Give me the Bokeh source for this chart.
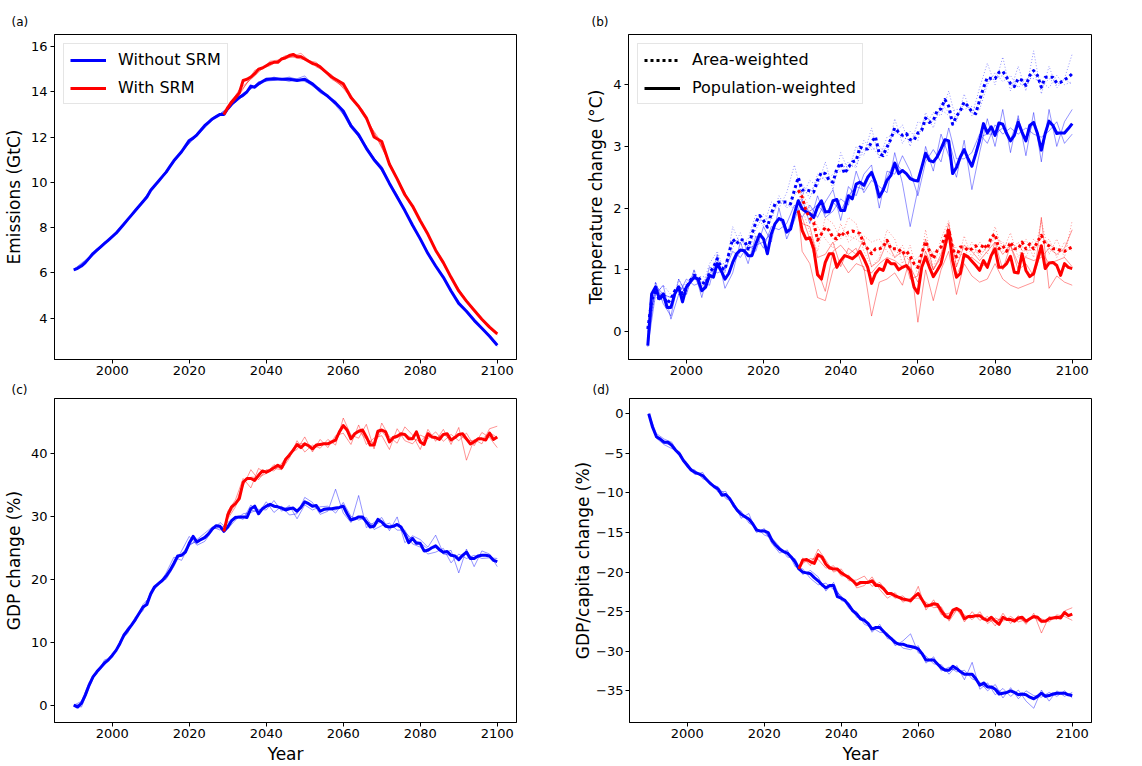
from bokeh.plotting import figure
from bokeh.layouts import column, row
from bokeh.models import (Range1d, FixedTicker, Legend, LegendItem,
                          CustomJSTickFormatter)
from bokeh.embed import file_html
from bokeh.resources import INLINE

# ---------------------------------------------------------------- data
X_TICKS = [2000, 2020, 2040, 2060, 2080, 2100]

YEARS_ANNUAL = list(range(1990, 2101))
YEARS_RED_ANNUAL = list(range(2029, 2101))
YEARS_THIN_BLUE = list(range(1990, 2101, 2))
YEARS_THIN_RED = [2029] + list(range(2030, 2101, 2))

# (a) Emissions (GtC)
A_YEARS_BLUE = list(range(1990, 2041)) + list(range(2042, 2101, 2))
A_BLUE = [6.13, 6.2, 6.3, 6.45, 6.65, 6.85, 7.0, 7.15, 7.3, 7.45,
          7.6, 7.75, 7.95, 8.15, 8.35, 8.55, 8.75, 8.95, 9.15, 9.35,
          9.65, 9.85, 10.05, 10.25, 10.45, 10.7, 10.95, 11.15, 11.35, 11.6,
          11.85, 11.95, 12.1, 12.3, 12.5, 12.65, 12.8, 12.9, 13.0, 13.0,
          13.25, 13.45, 13.6, 13.75, 13.85, 14.0, 14.25, 14.2, 14.35, 14.45,
          14.55,
          14.58, 14.55, 14.55, 14.5, 14.55, 14.35, 14.05, 13.8, 13.5, 13.15,
          12.5, 12.1, 11.5, 11.0, 10.6, 9.95, 9.35, 8.75, 8.1, 7.5,
          6.85, 6.3, 5.8, 5.2, 4.65, 4.3, 3.9, 3.55, 3.2, 2.8]
A_YEARS_RED = list(range(2029, 2061)) + list(range(2062, 2101, 2))
A_RED = [13.0, 13.3, 13.55, 13.75, 13.95, 14.5, 14.55, 14.65, 14.8, 15.0,
         15.05, 15.15, 15.25, 15.3, 15.3, 15.45, 15.5, 15.6, 15.65, 15.55,
         15.55, 15.45, 15.35, 15.25, 15.2, 15.1, 14.95, 14.8, 14.65, 14.55,
         14.45, 14.35,
         13.75, 13.35, 12.85, 12.0, 11.8, 10.8, 10.15, 9.45, 8.95, 8.3,
         7.7, 7.0, 6.45, 5.8, 5.2, 4.75, 4.35, 3.95, 3.6, 3.3]
A_THIN_YEARS_BLUE = list(range(1990, 2099, 4)) + [2100]
A_THIN_BLUE = [
    [6.15, 6.7, 7.35, 7.9, 8.8, 9.6, 10.5, 11.3, 12.15, 12.85, 13.2, 13.95, 14.3, 14.65, 14.45,
     14.7, 13.95, 13.6, 12.4, 11.6, 10.5, 9.45, 8.05, 6.9, 5.75, 4.7, 3.85, 3.25, 2.85],
    [6.1, 6.6, 7.25, 8.0, 8.7, 9.7, 10.4, 11.4, 12.05, 12.75, 13.3, 13.8, 14.45, 14.5, 14.65,
     14.45, 14.15, 13.4, 12.6, 11.45, 10.7, 9.3, 8.15, 6.8, 5.85, 4.6, 3.95, 3.15, 2.75],
    [6.14, 6.65, 7.3, 7.95, 8.75, 9.65, 10.5, 11.35, 12.1, 12.8, 13.25, 13.9, 14.4, 14.55, 14.6,
     14.5, 14.0, 13.55, 12.5, 11.5, 10.6, 9.35, 8.1, 6.85, 5.8, 4.65, 3.9, 3.2, 2.8],
]
A_THIN_YEARS_RED = list(range(2029, 2098, 4)) + [2100]
A_THIN_RED = [
    [13.0, 14.1, 14.7, 15.35, 15.45, 15.7, 15.1, 14.75, 13.95, 13.2, 11.85, 10.55, 9.15, 8.05,
     6.65, 5.55, 4.5, 3.8, 3.3],
    [13.0, 13.85, 14.95, 15.15, 15.6, 15.45, 15.3, 14.55, 14.15, 13.0, 12.0, 10.45, 9.25, 7.95,
     6.75, 5.45, 4.6, 3.7, 3.25],
    [13.0, 13.95, 14.8, 15.25, 15.5, 15.6, 15.2, 14.6, 14.05, 13.1, 11.9, 10.5, 9.2, 8.0,
     6.7, 5.5, 4.55, 3.75, 3.3],
]

# (b) Temperature change (°C)
B_BLUE_POP = [-0.23, 0.61, 0.72, 0.53, 0.61, 0.39, 0.39, 0.61, 0.72, 0.48,
              0.72, 0.8, 0.88, 0.85, 0.66, 0.72, 0.91, 0.88, 1.1, 0.99,
              0.85, 0.94, 1.12, 1.26, 1.32, 1.31, 1.23, 1.23, 1.42, 1.58,
              1.5, 1.26, 1.58, 1.75, 1.83, 1.8, 1.61, 1.66, 1.91, 2.12,
              1.99, 1.94, 1.91, 1.85, 2.02, 2.12, 1.94, 1.94, 2.12, 2.14,
              1.96, 1.96, 2.2, 2.15, 2.39, 2.42, 2.37, 2.5, 2.58, 2.42,
              2.18, 2.29, 2.45, 2.53, 2.73, 2.56, 2.61, 2.56, 2.48, 2.45,
              2.44, 2.66, 2.89, 2.77, 2.75, 2.83, 2.96, 3.11, 3.09, 2.56,
              2.66, 2.83, 2.95, 2.8, 2.68, 2.88, 3.1, 3.37, 3.22, 3.32,
              3.18, 3.38, 3.36, 3.21, 3.09, 3.18, 3.39, 3.23, 3.09, 3.34,
              3.39, 3.21, 2.94, 3.21, 3.41, 3.34, 3.21, 3.22, 3.22, 3.29,
              3.37]
B_BLUE_AREA = [0.04, 0.5, 0.68, 0.5, 0.61, 0.45, 0.53, 0.66, 0.72, 0.61,
               0.71, 0.83, 0.91, 0.89, 0.8, 0.77, 0.95, 1.04, 1.18, 1.04,
               1.0, 1.26, 1.5, 1.42, 1.49, 1.48, 1.34, 1.58, 1.77, 1.88,
               1.8, 1.69, 1.91, 2.07, 2.1, 2.1, 2.1, 2.07, 2.29, 2.5,
               2.29, 2.3, 2.28, 2.26, 2.45, 2.58, 2.56, 2.45, 2.42, 2.64,
               2.73, 2.56, 2.66, 2.75, 2.77, 2.99, 2.96, 2.96, 3.07, 3.16,
               2.88, 2.85, 2.99, 3.12, 3.3, 3.23, 3.18, 3.21, 3.11, 3.1,
               3.22, 3.26, 3.46, 3.39, 3.42, 3.58, 3.61, 3.76, 3.65, 3.36,
               3.49, 3.58, 3.72, 3.65, 3.56, 3.53, 3.75, 3.95, 4.12, 4.1,
               4.1, 4.2, 4.22, 4.12, 4.02, 3.97, 4.1, 4.07, 3.99, 4.15,
               4.23, 4.15, 3.96, 4.12, 4.12, 4.12, 4.03, 4.04, 4.08, 4.12,
               4.18]
B_RED_POP = [1.96,
             1.64, 1.5, 1.52, 1.34, 0.92, 0.85, 1.12, 1.26, 1.26, 1.04,
             1.15, 1.23, 1.21, 1.18, 1.23, 1.3, 1.18, 1.04, 0.78, 0.94,
             1.02, 0.99, 1.16, 1.1, 1.1, 1.0, 1.04, 1.07, 0.99, 0.72,
             0.62, 1.04, 1.21, 1.04, 0.89, 0.99, 1.1, 1.37, 1.64, 1.15,
             0.88, 0.94, 1.25, 1.21, 1.14, 1.07, 0.99, 1.15, 1.04, 1.23,
             1.34, 1.04, 1.04, 1.1, 1.22, 0.96, 0.95, 1.26, 0.99, 0.89,
             0.94, 1.16, 1.39, 1.02, 1.11, 1.12, 1.07, 0.91, 1.1, 1.04,
             1.02]
B_RED_AREA = [2.29,
              2.18, 1.96, 1.84, 1.77, 1.48, 1.58, 1.69, 1.64, 1.52, 1.5,
              1.61, 1.56, 1.61, 1.63, 1.61, 1.59, 1.42, 1.34, 1.26, 1.34,
              1.34, 1.37, 1.48, 1.34, 1.34, 1.34, 1.26, 1.31, 1.22, 1.1,
              1.04, 1.26, 1.46, 1.31, 1.18, 1.31, 1.37, 1.53, 1.66, 1.34,
              1.21, 1.37, 1.37, 1.31, 1.34, 1.39, 1.3, 1.42, 1.34, 1.53,
              1.58, 1.34, 1.39, 1.3, 1.45, 1.34, 1.34, 1.45, 1.34, 1.42,
              1.34, 1.45, 1.56, 1.42, 1.39, 1.34, 1.34, 1.31, 1.3, 1.34,
              1.37]
B_THIN_BLUE_POP = [
    [-0.2, 0.8, 0.45, 0.25, 0.85, 0.6, 1.0, 0.55, 1.05, 0.95, 1.0, 1.3, 1.2, 1.4, 1.3, 1.7, 1.45, 2.0, 1.5, 1.8,
     2.15, 1.75, 2.2, 1.85, 1.95, 2.15, 2.05, 2.6, 2.25, 2.45, 2.35, 2.25, 2.9, 2.4, 1.7, 2.3, 3.0, 2.6, 3.2, 2.85,
     2.5, 3.1, 2.3, 2.9, 3.45, 3.0, 3.6, 2.9, 3.5, 2.85, 3.55, 2.75, 3.6, 3.0, 3.4, 3.6],
    [-0.25, 0.6, 0.75, 0.2, 0.6, 0.85, 0.75, 0.8, 0.75, 1.25, 0.7, 0.95, 1.45, 1.1, 1.55, 1.35, 1.7, 1.65, 1.75, 2.05,
     1.85, 2.05, 1.85, 2.1, 2.3, 1.8, 2.35, 2.2, 2.55, 2.7, 2.0, 2.6, 2.55, 2.85, 2.6, 2.2, 2.75, 2.95, 2.75, 3.3,
     2.8, 2.8, 2.9, 3.2, 3.05, 3.35, 3.2, 3.3, 3.2, 3.3, 3.2, 3.15, 3.25, 3.4, 3.05, 3.2],
    [-0.22, 0.75, 0.6, 0.55, 0.7, 0.7, 0.9, 0.65, 0.95, 1.05, 0.85, 1.1, 1.3, 1.35, 1.4, 1.45, 1.6, 1.85, 1.6, 1.9,
     2.0, 1.95, 2.05, 1.9, 2.1, 1.95, 2.2, 2.35, 2.3, 2.6, 2.2, 2.5, 2.75, 2.6, 2.5, 2.45, 2.9, 2.75, 2.95, 3.1,
     2.65, 2.95, 2.7, 3.15, 3.2, 3.2, 3.3, 3.1, 3.45, 3.1, 3.4, 2.95, 3.4, 3.25, 3.2, 3.35],
]
B_THIN_BLUE_AREA = [
    [0.05, 0.8, 0.5, 0.4, 0.85, 0.6, 1.0, 0.7, 1.1, 1.3, 0.95, 1.7, 1.4, 1.5, 1.9, 1.7, 2.1, 2.0, 2.25, 2.7,
     2.2, 2.45, 2.35, 2.75, 2.3, 2.9, 2.6, 3.0, 2.85, 3.3, 2.8, 3.15, 3.2, 3.35, 3.0, 3.4, 3.35, 3.55, 3.5, 3.9,
     3.4, 3.85, 3.5, 3.95, 4.35, 4.0, 4.45, 3.9, 4.3, 3.9, 4.55, 3.85, 4.3, 3.95, 4.1, 4.5],
    [0.0, 0.6, 0.75, 0.6, 0.6, 0.8, 0.85, 0.9, 0.85, 1.1, 1.1, 1.35, 1.6, 1.25, 1.65, 1.9, 1.8, 2.2, 2.0, 2.2,
     2.4, 2.15, 2.55, 2.45, 2.55, 2.6, 2.75, 2.65, 3.1, 2.95, 3.0, 2.85, 3.45, 3.05, 3.25, 3.1, 3.55, 3.3, 3.7, 3.55,
     3.6, 3.6, 3.65, 3.6, 4.0, 4.2, 4.05, 4.15, 3.95, 4.1, 4.1, 4.05, 3.95, 4.15, 4.0, 4.05],
    [0.06, 0.65, 0.6, 0.55, 0.75, 0.75, 0.9, 0.8, 0.9, 1.15, 0.95, 1.45, 1.5, 1.3, 1.8, 1.8, 1.85, 2.1, 2.05, 2.0,
     2.25, 2.25, 2.45, 2.5, 2.4, 2.7, 2.65, 2.7, 2.95, 3.0, 2.85, 3.0, 3.25, 3.15, 3.1, 3.2, 3.45, 3.4, 3.6, 3.5,
     3.45, 3.7, 3.55, 3.7, 4.05, 4.1, 4.15, 4.0, 4.05, 3.95, 4.2, 3.95, 4.1, 4.0, 4.1, 4.0],
]
B_THIN_RED_POP = [
    [1.96, 1.3, 1.1, 0.55, 0.5, 1.0, 1.15, 0.95, 1.1, 1.05, 0.25, 0.8, 0.85, 0.95, 0.75, 1.2, 0.15, 1.0, 0.5, 1.0,
     1.3, 0.6, 1.1, 0.9, 0.8, 0.85, 1.1, 0.85, 0.75, 0.7, 0.75, 0.8, 1.85, 0.7, 0.9, 0.8, 0.75],
    [1.96, 1.75, 1.7, 1.2, 1.25, 1.45, 1.05, 1.35, 1.25, 1.5, 1.05, 1.15, 1.45, 1.2, 1.3, 0.85, 0.9, 1.5, 1.0, 1.25,
     1.75, 1.05, 1.4, 1.3, 1.15, 1.3, 1.45, 1.25, 1.4, 1.1, 1.2, 1.15, 1.2, 1.35, 1.25, 1.35, 1.65],
    [1.96, 1.85, 1.5, 1.0, 0.65, 1.3, 1.4, 1.25, 1.35, 1.0, 0.95, 1.1, 1.2, 1.15, 1.05, 1.05, 0.8, 1.3, 1.0, 1.2,
     1.6, 0.9, 1.2, 1.2, 1.1, 1.05, 1.45, 1.0, 1.4, 1.0, 1.1, 0.9, 1.3, 1.1, 1.15, 1.2, 1.05],
]
B_THIN_RED_AREA = [
    [2.29, 2.0, 1.6, 1.3, 1.85, 1.75, 1.5, 1.85, 1.75, 1.3, 1.05, 1.2, 1.65, 1.5, 1.1, 1.4, 0.9, 1.65, 1.0, 1.5,
     1.8, 1.05, 1.55, 1.2, 1.45, 1.25, 1.7, 1.3, 1.6, 1.2, 1.5, 1.2, 1.8, 1.25, 1.5, 1.2, 1.8],
    [2.29, 2.25, 2.0, 1.7, 1.5, 1.35, 1.75, 1.45, 1.55, 1.55, 1.45, 1.5, 1.3, 1.2, 1.4, 1.1, 1.2, 1.3, 1.3, 1.25,
     1.5, 1.35, 1.2, 1.45, 1.2, 1.4, 1.5, 1.45, 1.3, 1.45, 1.2, 1.5, 1.35, 1.5, 1.2, 1.45, 1.3],
    [2.29, 2.2, 1.9, 1.45, 1.7, 1.5, 1.6, 1.55, 1.5, 1.4, 1.3, 1.35, 1.5, 1.3, 1.25, 1.15, 1.05, 1.45, 1.25, 1.35,
     1.65, 1.25, 1.35, 1.35, 1.25, 1.35, 1.55, 1.4, 1.45, 1.35, 1.3, 1.35, 1.55, 1.4, 1.35, 1.3, 1.35],
]

# (c) GDP change (%)
C_BLUE = [0, -0.3, 0.3, 1.6, 3.2, 4.5, 5.3, 6.0, 6.7, 7.2,
          7.9, 8.7, 9.8, 11.1, 11.9, 12.7, 13.6, 14.6, 15.6, 16.0,
          17.7, 18.8, 19.3, 19.8, 20.5, 21.4, 22.5, 23.7, 23.8, 24.3,
          25.7, 26.8, 25.9, 26.3, 26.6, 27.2, 28.0, 28.5, 28.4, 27.6,
          28.3, 29.3, 29.8, 29.9, 29.9, 29.8, 31.2, 31.6, 30.4, 31.2,
          31.6, 31.9, 31.6, 31.5, 31.3, 31.0, 31.2, 31.3, 30.8, 31.4,
          32.3, 32.0, 31.6, 31.7, 30.8, 31.1, 31.2, 31.2, 31.3, 31.4,
          31.6, 30.4, 29.4, 29.6, 29.9, 29.9, 29.1, 28.3, 28.4, 29.5,
          29.1, 28.4, 28.3, 28.4, 28.7, 28.3, 27.2, 25.8, 26.5, 25.7,
          25.7, 24.5, 24.6, 25.0, 25.3, 24.7, 24.3, 24.4, 23.8, 23.7,
          23.1, 23.8, 24.3, 23.3, 23.3, 23.7, 23.8, 23.8, 23.7, 23.0,
          22.8]
C_RED = [27.6,
         30.2, 31.5, 32.0, 32.8, 35.4, 36.0, 36.0, 35.7, 36.5, 37.2,
         37.0, 37.3, 37.7, 38.1, 37.7, 39.0, 39.7, 40.5, 41.4, 40.9,
         41.5, 41.2, 40.7, 41.3, 41.4, 41.5, 41.5, 41.8, 42.1, 43.4,
         44.4, 43.7, 42.3, 43.1, 43.5, 43.7, 42.6, 41.3, 41.3, 43.5,
         43.7, 43.4, 41.8, 42.5, 42.7, 43.1, 43.0, 42.3, 42.3, 43.4,
         41.8, 41.4, 43.1, 42.6, 42.5, 42.2, 43.0, 43.1, 42.1, 42.5,
         43.0, 43.1, 42.3, 41.5, 41.8, 42.3, 42.3, 42.1, 43.2, 42.2,
         42.6]
C_THIN_BLUE = [
    [0, 0.6, 3.6, 5.0, 7.2, 7.6, 10.1, 11.4, 14.0, 15.0, 18.0, 19.0, 21.0, 23.5, 23.0, 25.3, 26.3, 27.3, 28.3, 27.8,
     29.0, 30.0, 29.5, 31.8, 30.5, 32.3, 30.6, 31.6, 30.2, 30.4, 33.0, 32.2, 30.3, 30.8, 34.3, 30.5, 29.0, 33.3, 28.2, 29.0,
     29.8, 27.7, 29.9, 25.8, 26.9, 26.3, 25.1, 27.0, 24.1, 24.6, 21.0, 24.8, 22.0, 24.5, 24.0, 22.0],
    [0, -0.3, 2.8, 5.6, 6.4, 8.2, 9.5, 12.3, 13.3, 16.0, 17.3, 19.5, 20.0, 22.0, 24.5, 26.8, 25.4, 26.0, 27.7, 29.0,
     28.0, 29.4, 30.4, 30.6, 31.1, 31.0, 32.5, 30.8, 31.7, 29.6, 31.8, 31.0, 31.5, 31.6, 30.5, 32.2, 30.0, 29.4, 29.8, 27.9,
     28.5, 28.9, 27.8, 27.8, 25.6, 25.1, 24.0, 24.3, 24.9, 22.6, 24.0, 23.3, 23.8, 23.3, 23.4, 23.3],
    [0, 0.2, 3.2, 5.3, 6.8, 7.8, 9.9, 11.8, 13.5, 15.4, 17.8, 19.2, 20.6, 22.6, 24.0, 25.5, 26.0, 26.8, 28.0, 28.2,
     28.6, 29.6, 29.8, 31.0, 30.6, 31.5, 31.8, 31.3, 31.4, 30.8, 32.0, 31.8, 30.9, 31.0, 31.0, 31.8, 29.6, 29.9, 29.2, 28.6,
     29.2, 28.3, 28.5, 27.5, 26.3, 25.8, 24.8, 25.0, 24.0, 23.8, 23.5, 24.0, 23.4, 23.9, 23.6, 22.9],
]
C_THIN_RED = [
    [27.6, 30.8, 32.6, 36.0, 34.5, 37.6, 36.8, 38.2, 37.4, 39.2, 42.0, 40.2, 41.3, 40.8, 42.2, 41.3, 45.6, 42.9, 42.4, 44.6,
     40.7, 44.8, 42.6, 41.6, 44.2, 42.9, 40.6, 43.8, 41.9, 43.8, 41.4, 44.1, 38.9, 42.2, 41.5, 43.9, 44.3],
    [27.6, 29.6, 31.5, 34.8, 37.4, 35.8, 37.4, 37.2, 38.4, 40.0, 40.6, 42.6, 40.2, 42.2, 40.9, 42.8, 43.2, 41.4, 44.5, 41.4,
     42.4, 42.8, 40.6, 43.9, 42.0, 41.5, 42.9, 42.3, 43.4, 41.9, 43.0, 42.0, 43.2, 41.2, 43.3, 42.5, 40.9],
    [27.6, 30.0, 31.9, 35.3, 36.2, 36.2, 36.8, 37.6, 37.4, 39.8, 41.4, 41.6, 40.6, 41.4, 41.6, 42.2, 44.2, 42.6, 43.6, 42.2,
     41.6, 43.5, 42.0, 42.5, 43.0, 42.4, 41.8, 43.2, 42.3, 43.1, 42.0, 43.0, 42.1, 42.0, 42.2, 43.3, 42.5],
]

# (d) GDP/capita change (%)
D_BLUE = [0, -1.7, -2.9, -3.2, -3.6, -3.6, -4.0, -4.6, -5.1, -5.9,
          -6.5, -7.1, -7.4, -7.6, -7.8, -8.3, -8.8, -9.2, -9.5, -10.3,
          -10.2, -10.7, -11.5, -12.2, -12.7, -13.0, -13.3, -13.9, -14.7, -14.8,
          -14.8, -15.0, -16.0, -16.6, -17.1, -17.4, -17.6, -18.1, -18.7, -19.6,
          -20.0, -20.1, -20.2, -20.7, -21.1, -21.6, -22.0, -21.7, -21.7, -23.1,
          -23.3, -23.6, -24.2, -24.9, -25.3, -25.9, -26.1, -26.5, -27.2, -27.0,
          -27.0, -27.5, -28.0, -28.4, -28.9, -29.1, -29.1, -29.3, -29.4, -29.5,
          -29.7, -30.3, -31.1, -31.1, -31.1, -31.6, -32.1, -32.4, -32.4, -31.9,
          -32.2, -32.6, -32.9, -32.9, -32.9, -33.5, -34.3, -34.0, -34.5, -34.5,
          -34.8, -35.4, -35.3, -35.2, -35.0, -35.2, -35.5, -35.4, -35.5, -35.8,
          -36.0, -35.7, -35.3, -35.7, -35.6, -35.4, -35.3, -35.3, -35.3, -35.5,
          -35.6]
D_RED = [-19.6,
         -18.5, -18.4, -18.7, -18.9, -17.8, -18.1, -19.0, -19.5, -19.6, -19.6,
         -20.1, -20.4, -20.7, -21.1, -21.6, -21.3, -21.3, -21.3, -21.1, -21.7,
         -21.7, -22.1, -22.7, -22.7, -23.0, -23.2, -23.4, -23.5, -23.6, -23.1,
         -22.7, -23.5, -24.3, -24.2, -24.0, -24.1, -24.9, -25.6, -25.8, -24.8,
         -24.6, -24.9, -25.9, -25.6, -25.6, -25.5, -25.5, -25.9, -26.1, -25.7,
         -26.2, -26.6, -25.7, -26.0, -26.0, -26.2, -25.8, -25.7, -26.2, -25.9,
         -25.6, -25.7, -26.2, -26.2, -25.9, -25.8, -25.7, -25.8, -25.1, -25.5,
         -25.3]
D_THIN_BLUE = [
    [0, -2.5, -3.2, -3.6, -5.3, -6.2, -7.7, -7.4, -9.0, -9.2, -10.7, -11.2, -13.2, -12.6, -15.0, -14.5, -16.4, -17.6, -17.2, -19.3,
     -19.6, -20.8, -21.6, -21.4, -22.2, -23.0, -24.6, -25.0, -26.6, -27.0, -27.6, -27.7, -29.3, -28.7, -27.8, -30.2, -30.6, -31.6, -31.7, -32.9,
     -31.8, -33.6, -31.4, -34.8, -34.0, -35.5, -34.7, -35.7, -34.9, -36.3, -37.2, -34.9, -36.3, -35.0, -35.7, -35.2],
    [0, -3.1, -3.9, -4.4, -4.8, -6.8, -7.1, -8.2, -8.6, -9.9, -9.8, -11.8, -12.3, -13.8, -14.4, -15.3, -15.7, -16.8, -18.1, -18.3,
     -20.3, -19.8, -20.6, -22.4, -21.3, -23.6, -23.9, -25.7, -25.8, -27.6, -26.6, -28.4, -28.6, -29.6, -29.8, -29.3, -31.5, -30.7, -32.5, -32.0,
     -32.6, -32.4, -33.5, -33.9, -35.0, -34.2, -35.9, -34.6, -36.0, -35.0, -35.6, -35.8, -35.2, -35.7, -35.0, -35.9],
    [0, -2.9, -3.7, -4.0, -5.2, -6.5, -7.4, -7.9, -8.8, -9.4, -10.2, -11.5, -12.6, -13.4, -14.6, -14.9, -16.0, -17.0, -17.7, -18.6,
     -20.1, -20.1, -21.2, -21.9, -21.8, -23.2, -24.2, -25.2, -26.1, -27.1, -27.1, -28.0, -28.8, -29.2, -29.5, -29.6, -31.2, -31.0, -32.2, -32.3,
     -32.3, -32.8, -33.0, -34.2, -34.6, -34.7, -35.3, -35.1, -35.4, -35.6, -35.9, -35.4, -35.5, -35.4, -35.3, -35.6],
]
D_THIN_RED = [
    [-19.6, -18.2, -19.2, -17.1, -18.5, -20.0, -19.6, -21.1, -21.0, -20.5, -21.8, -21.3, -22.5, -23.3, -23.0, -23.9, -21.8, -24.8, -23.5, -25.4,
     -25.2, -24.5, -26.3, -25.0, -26.1, -25.6, -26.8, -25.2, -26.5, -25.5, -26.6, -25.2, -27.7, -25.6, -26.0, -24.9, -24.5],
    [-19.6, -18.9, -18.3, -18.4, -19.5, -19.2, -20.5, -20.4, -22.0, -21.7, -20.6, -22.2, -23.3, -22.6, -23.8, -23.3, -23.3, -23.8, -24.5, -24.4,
     -26.2, -24.8, -25.4, -26.0, -25.0, -26.5, -25.8, -26.2, -25.6, -26.3, -26.0, -25.8, -25.9, -26.3, -25.4, -25.6, -26.1],
    [-19.6, -18.5, -18.6, -17.9, -19.0, -19.5, -20.1, -20.6, -21.6, -21.4, -21.0, -21.7, -22.6, -23.1, -23.5, -23.6, -22.8, -24.2, -24.1, -24.8,
     -25.6, -24.8, -25.8, -25.7, -25.4, -26.1, -26.2, -25.8, -26.0, -25.9, -26.1, -25.7, -26.4, -25.9, -25.7, -25.3, -25.4],
]

A_YTICKS = [4, 6, 8, 10, 12, 14, 16]
B_YTICKS = [0, 1, 2, 3, 4]
C_YTICKS = [0, 10, 20, 30, 40]
D_YTICKS = [0, -5, -10, -15, -20, -25, -30, -35]

# legend keys for panel (b): no data points, only the key style is shown
KEY_X = [YEARS_ANNUAL[0], YEARS_ANNUAL[1]]
KEY_Y = [float("nan"), float("nan")]

# ---------------------------------------------------------------- style
BLUE = "#0000ff"
RED = "#ff0000"
FONT = "DejaVu Sans"
THIN_ALPHA = 0.42

MINUS_FMT = CustomJSTickFormatter(
    code="return tick < 0 ? '\\u2212' + String(-tick) : String(tick);")


def make_panel(width, height, left, right, top, bottom, yr, yticks,
               ylabel, tag, tag_offset, tag_standoff, tag_valign,
               xlabel=None, label_standoff=3, axis_standoff=4):
    p = figure(width=width, height=height, output_backend="svg",
               toolbar_location=None, x_range=Range1d(1985.0, 2105.0),
               y_range=Range1d(*yr), min_border_left=left,
               min_border_right=right, min_border_top=top,
               min_border_bottom=bottom, title=tag)
    p.background_fill_color = "white"
    p.border_fill_color = "white"
    p.grid.visible = False
    p.outline_line_color = "black"
    p.outline_line_width = 1
    p.outline_line_alpha = 1
    p.title.align = "left"
    p.title.vertical_align = tag_valign
    p.title.offset = tag_offset
    p.title.text_font = FONT
    p.title.text_font_size = "12px"
    p.title.text_font_style = "normal"
    p.title.text_color = "black"
    p.title.standoff = tag_standoff
    for ax in (p.xaxis[0], p.yaxis[0]):
        ax.axis_line_color = "black"
        ax.axis_line_width = 1
        ax.major_tick_line_color = "black"
        ax.major_tick_out = 4
        ax.major_tick_in = 0
        ax.minor_tick_out = 0
        ax.minor_tick_in = 0
        ax.major_label_text_font = FONT
        ax.major_label_text_font_size = "13px"
        ax.major_label_text_color = "black"
        ax.axis_label_text_font = FONT
        ax.axis_label_text_font_size = "17px"
        ax.axis_label_text_font_style = "normal"
        ax.axis_label_text_color = "black"
    p.xaxis[0].ticker = FixedTicker(ticks=X_TICKS)
    p.xaxis[0].major_label_standoff = 2
    p.xaxis[0].axis_label_standoff = 3
    p.yaxis[0].ticker = FixedTicker(ticks=yticks)
    p.yaxis[0].formatter = MINUS_FMT
    p.yaxis[0].major_label_standoff = label_standoff
    p.yaxis[0].axis_label_standoff = axis_standoff
    p.yaxis[0].axis_label = ylabel
    if xlabel:
        p.xaxis[0].axis_label = xlabel
    return p


def draw(p, xs, ys, color, width, alpha=1.0, dash="solid"):
    n = min(len(xs), len(ys))
    return p.line(list(xs[:n]), list(ys[:n]), line_color=color,
                  line_width=width, line_alpha=alpha, line_dash=dash,
                  line_join="round")


def style_legend(lg, margin):
    lg.location = "top_left"
    lg.margin = margin
    lg.label_text_font = FONT
    lg.label_text_font_size = "16px"
    lg.label_text_color = "black"
    lg.glyph_width = 36
    lg.glyph_height = 18
    lg.label_height = 18
    lg.label_standoff = 12
    lg.padding = 6
    lg.spacing = 9
    lg.border_line_color = "#cccccc"
    lg.border_line_width = 1
    lg.background_fill_color = "white"
    lg.background_fill_alpha = 0.8


# ---------------------------------------------------------------- (a)
pa = make_panel(570, 380, 52, 54, 34, 21, (2.17, 16.53), A_YTICKS,
                "Emissions (GtC)", "(a)", -43, 12, "bottom")
for m in A_THIN_BLUE:
    draw(pa, A_THIN_YEARS_BLUE, m, BLUE, 1, THIN_ALPHA)
a_blue = draw(pa, A_YEARS_BLUE, A_BLUE, BLUE, 3)
for m in A_THIN_RED:
    draw(pa, A_THIN_YEARS_RED, m, RED, 1, THIN_ALPHA)
a_red = draw(pa, A_YEARS_RED, A_RED, RED, 3)
lga = Legend(items=[LegendItem(label="Without SRM", renderers=[a_blue]),
                    LegendItem(label="With SRM", renderers=[a_red])])
style_legend(lga, 9)
pa.add_layout(lga)

# ---------------------------------------------------------------- (b)
pb = make_panel(572, 380, 58, 51, 34, 21, (-0.454, 4.815), B_YTICKS,
                "Temperature change (°C)", "(b)", -37, 12, "bottom")
for m in B_THIN_BLUE_AREA:
    draw(pb, YEARS_THIN_BLUE, m, BLUE, 1, THIN_ALPHA, "1 2")
for m in B_THIN_BLUE_POP:
    draw(pb, YEARS_THIN_BLUE, m, BLUE, 1, THIN_ALPHA)
draw(pb, YEARS_ANNUAL, B_BLUE_AREA, BLUE, 3, 1.0, "3 3")
draw(pb, YEARS_ANNUAL, B_BLUE_POP, BLUE, 3)
for m in B_THIN_RED_AREA:
    draw(pb, YEARS_THIN_RED, m, RED, 1, THIN_ALPHA, "1 2")
for m in B_THIN_RED_POP:
    draw(pb, YEARS_THIN_RED, m, RED, 1, THIN_ALPHA)
draw(pb, YEARS_RED_ANNUAL, B_RED_AREA, RED, 3, 1.0, "3 3")
draw(pb, YEARS_RED_ANNUAL, B_RED_POP, RED, 3)
key_area = draw(pb, KEY_X, KEY_Y, "black", 3, 1.0, "3 3")
key_pop = draw(pb, KEY_X, KEY_Y, "black", 3)
lgb = Legend(items=[LegendItem(label="Area-weighted", renderers=[key_area]),
                    LegendItem(label="Population-weighted", renderers=[key_pop])])
style_legend(lgb, 9)
pb.add_layout(lgb)

# ---------------------------------------------------------------- (c)
pc = make_panel(570, 386, 52, 54, 18, 44, (-2.75, 48.7), C_YTICKS,
                "GDP change (%)", "(c)", -43, 0, "top", "Year")
for m in C_THIN_BLUE:
    draw(pc, YEARS_THIN_BLUE, m, BLUE, 1, THIN_ALPHA)
draw(pc, YEARS_ANNUAL, C_BLUE, BLUE, 3)
for m in C_THIN_RED:
    draw(pc, YEARS_THIN_RED, m, RED, 1, THIN_ALPHA)
draw(pc, YEARS_RED_ANNUAL, C_RED, RED, 3)

# ---------------------------------------------------------------- (d)
pd_ = make_panel(572, 386, 58, 51, 18, 44, (-39.0, 1.93), D_YTICKS,
                 "GDP/capita change (%)", "(d)", -37, 0, "top", "Year",
                 label_standoff=2, axis_standoff=0)
for m in D_THIN_BLUE:
    draw(pd_, YEARS_THIN_BLUE, m, BLUE, 1, THIN_ALPHA)
draw(pd_, YEARS_ANNUAL, D_BLUE, BLUE, 3)
for m in D_THIN_RED:
    draw(pd_, YEARS_THIN_RED, m, RED, 1, THIN_ALPHA)
draw(pd_, YEARS_RED_ANNUAL, D_RED, RED, 3)

layout = column(row(pa, pb), row(pc, pd_))

with open("out.html", "w") as f:
    f.write(file_html(layout, INLINE))
